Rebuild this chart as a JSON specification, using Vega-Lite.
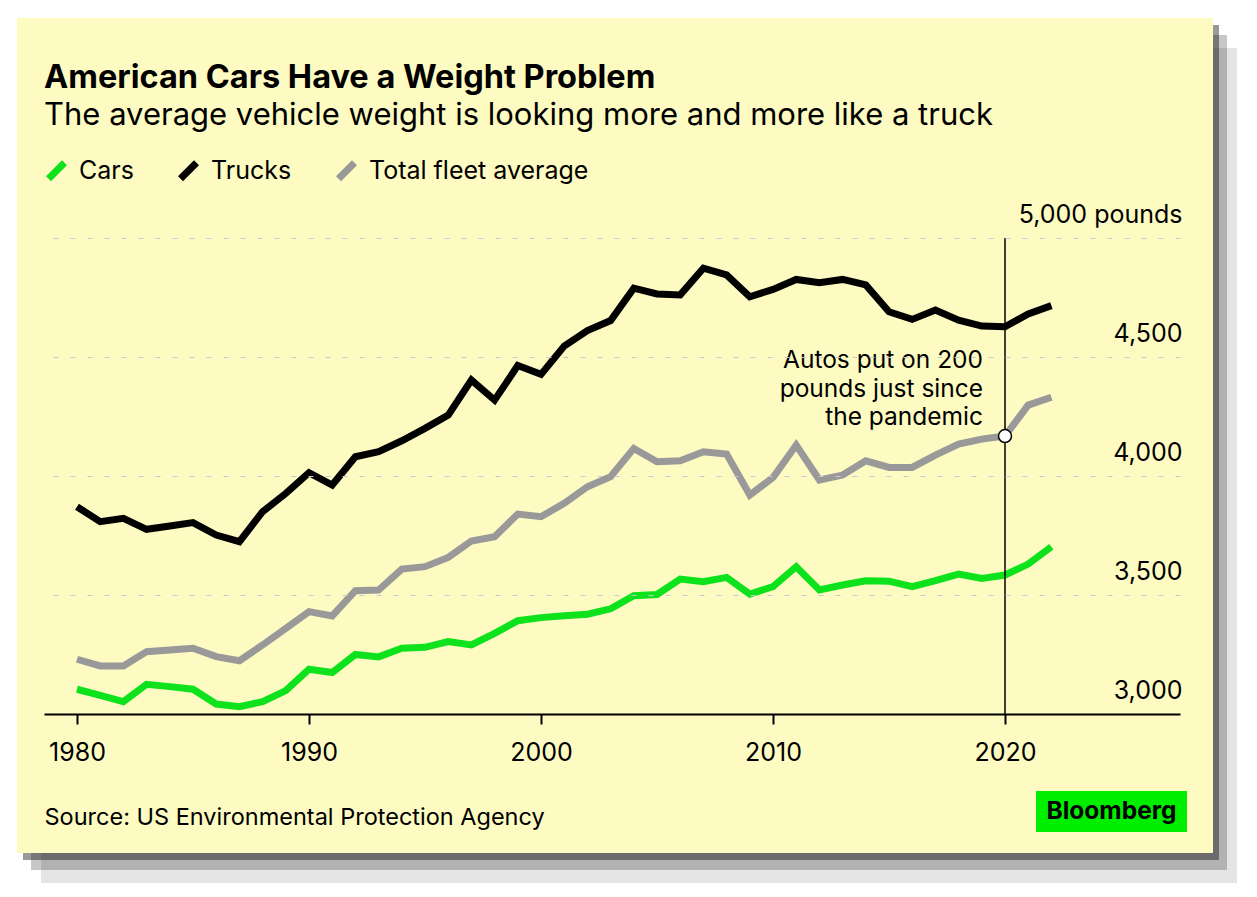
{
  "$schema": "https://vega.github.io/schema/vega-lite/v6.json",
  "width": 1136,
  "height": 476,
  "autosize": {"type": "none"},
  "padding": {"left": 44, "top": 238, "right": 77, "bottom": 183},
  "background": "#ffffff",
  "config": {
    "font": "Inter",
    "view": {"stroke": null},
    "legend": {
      "orient": "none",
      "legendX": 0,
      "legendY": -80,
      "direction": "horizontal",
      "padding": 0,
      "symbolType": "M-1,1L1,-1",
      "symbolSize": 256,
      "symbolStrokeWidth": 7,
      "symbolFillColor": "transparent",
      "labelFont": "Inter",
      "labelFontSize": 25,
      "labelColor": "#000000",
      "labelLimit": 400,
      "labelOffset": 10,
      "columnPadding": 32
    }
  },
  "title": {
    "text": "American Cars Have a Weight Problem",
    "subtitle": "The average vehicle weight is looking more and more like a truck",
    "anchor": "start",
    "frame": "group",
    "font": "Inter",
    "fontSize": 32.5,
    "fontWeight": "bold",
    "color": "#000000",
    "subtitleFont": "Inter",
    "subtitleFontSize": 31,
    "subtitleColor": "#000000",
    "subtitlePadding": 6,
    "offset": 10,
    "dy": 123
  },
  "datasets": {
    "weights": [
      {"year": 1980, "Cars": 3104, "Trucks": 3871, "Total fleet average": 3230},
      {"year": 1981, "Cars": 3078, "Trucks": 3808, "Total fleet average": 3202},
      {"year": 1982, "Cars": 3052, "Trucks": 3822, "Total fleet average": 3202},
      {"year": 1983, "Cars": 3125, "Trucks": 3776, "Total fleet average": 3262},
      {"year": 1984, "Cars": 3115, "Trucks": 3790, "Total fleet average": 3269},
      {"year": 1985, "Cars": 3104, "Trucks": 3804, "Total fleet average": 3276},
      {"year": 1986, "Cars": 3042, "Trucks": 3752, "Total fleet average": 3241},
      {"year": 1987, "Cars": 3031, "Trucks": 3724, "Total fleet average": 3224},
      {"year": 1988, "Cars": 3052, "Trucks": 3850, "Total fleet average": 3290},
      {"year": 1989, "Cars": 3098, "Trucks": 3927, "Total fleet average": 3360},
      {"year": 1990, "Cars": 3188, "Trucks": 4014, "Total fleet average": 3430},
      {"year": 1991, "Cars": 3174, "Trucks": 3962, "Total fleet average": 3412},
      {"year": 1992, "Cars": 3250, "Trucks": 4081, "Total fleet average": 3518},
      {"year": 1993, "Cars": 3240, "Trucks": 4102, "Total fleet average": 3521},
      {"year": 1994, "Cars": 3276, "Trucks": 4148, "Total fleet average": 3609},
      {"year": 1995, "Cars": 3280, "Trucks": 4200, "Total fleet average": 3619},
      {"year": 1996, "Cars": 3304, "Trucks": 4256, "Total fleet average": 3658},
      {"year": 1997, "Cars": 3290, "Trucks": 4403, "Total fleet average": 3727},
      {"year": 1998, "Cars": 3339, "Trucks": 4319, "Total fleet average": 3745},
      {"year": 1999, "Cars": 3392, "Trucks": 4464, "Total fleet average": 3840},
      {"year": 2000, "Cars": 3405, "Trucks": 4427, "Total fleet average": 3829},
      {"year": 2001, "Cars": 3413, "Trucks": 4546, "Total fleet average": 3885},
      {"year": 2002, "Cars": 3419, "Trucks": 4611, "Total fleet average": 3955},
      {"year": 2003, "Cars": 3442, "Trucks": 4653, "Total fleet average": 3997},
      {"year": 2004, "Cars": 3497, "Trucks": 4789, "Total fleet average": 4116},
      {"year": 2005, "Cars": 3502, "Trucks": 4765, "Total fleet average": 4060},
      {"year": 2006, "Cars": 3567, "Trucks": 4761, "Total fleet average": 4064},
      {"year": 2007, "Cars": 3556, "Trucks": 4873, "Total fleet average": 4102},
      {"year": 2008, "Cars": 3574, "Trucks": 4845, "Total fleet average": 4092},
      {"year": 2009, "Cars": 3504, "Trucks": 4753, "Total fleet average": 3920},
      {"year": 2010, "Cars": 3535, "Trucks": 4784, "Total fleet average": 3994},
      {"year": 2011, "Cars": 3619, "Trucks": 4826, "Total fleet average": 4130},
      {"year": 2012, "Cars": 3521, "Trucks": 4812, "Total fleet average": 3983},
      {"year": 2013, "Cars": 3542, "Trucks": 4826, "Total fleet average": 4004},
      {"year": 2014, "Cars": 3560, "Trucks": 4803, "Total fleet average": 4064},
      {"year": 2015, "Cars": 3558, "Trucks": 4690, "Total fleet average": 4036},
      {"year": 2016, "Cars": 3535, "Trucks": 4658, "Total fleet average": 4036},
      {"year": 2017, "Cars": 3560, "Trucks": 4697, "Total fleet average": 4088},
      {"year": 2018, "Cars": 3588, "Trucks": 4655, "Total fleet average": 4134},
      {"year": 2019, "Cars": 3570, "Trucks": 4630, "Total fleet average": 4155},
      {"year": 2020, "Cars": 3584, "Trucks": 4627, "Total fleet average": 4168},
      {"year": 2021, "Cars": 3630, "Trucks": 4681, "Total fleet average": 4298},
      {"year": 2022, "Cars": 3703, "Trucks": 4716, "Total fleet average": 4331}
    ],
    "note": [
      {"year": 2020, "weight": 4168, "text": ["Autos put on 200", "pounds just since", "the pandemic"]}
    ]
  },
  "layer": [
    {
      "data": {"values": [{}]},
      "mark": {"type": "rect", "color": "#000000", "opacity": 0.1},
      "encoding": {
        "x": {"datum": 1978.449, "type": "quantitative"},
        "x2": {"datum": 2030.0},
        "y": {"datum": 5798.4, "type": "quantitative"},
        "y2": {"datum": 2289.95}
      }
    },
    {
      "data": {"values": [{}]},
      "mark": {"type": "rect", "color": "#000000", "opacity": 0.22},
      "encoding": {
        "x": {"datum": 1978.017, "type": "quantitative"},
        "x2": {"datum": 2029.569},
        "y": {"datum": 5853.0, "type": "quantitative"},
        "y2": {"datum": 2344.6}
      }
    },
    {
      "data": {"values": [{}]},
      "mark": {"type": "rect", "color": "#000000", "opacity": 0.4},
      "encoding": {
        "x": {"datum": 1977.673, "type": "quantitative"},
        "x2": {"datum": 2029.225},
        "y": {"datum": 5895.0, "type": "quantitative"},
        "y2": {"datum": 2386.6}
      }
    },
    {
      "data": {"values": [{}]},
      "mark": {"type": "rect", "color": "#fdfbc1", "opacity": 1},
      "encoding": {
        "x": {"datum": 1977.414, "type": "quantitative"},
        "x2": {"datum": 2028.966},
        "y": {"datum": 5924.4, "type": "quantitative"},
        "y2": {"datum": 2416.0}
      }
    },
    {
      "data": {"name": "weights"},
      "transform": [{"fold": ["Cars", "Trucks", "Total fleet average"], "as": ["type", "weight"]}],
      "mark": {"type": "line", "strokeWidth": 7},
      "encoding": {
        "x": {
          "field": "year",
          "type": "quantitative",
          "scale": {"domain": [1978.5776, 2027.543], "nice": false, "zero": false},
          "axis": {
            "values": [1980, 1990, 2000, 2010, 2020],
            "format": "d",
            "grid": false,
            "domainColor": "#000000",
            "domainWidth": 2,
            "tickColor": "#000000",
            "tickWidth": 2,
            "tickSize": 10,
            "labelFont": "Inter",
            "labelFontSize": 25,
            "labelColor": "#000000",
            "labelPadding": 16,
            "title": "Source: US Environmental Protection Agency",
            "titleFont": "Inter",
            "titleFontSize": 23.5,
            "titleFontWeight": "normal",
            "titleColor": "#000000",
            "titleAlign": "left",
            "titleAnchor": "start",
            "titleBaseline": "alphabetic",
            "titleX": 0,
            "titleY": 110,
            "zindex": 1
          }
        },
        "y": {
          "field": "weight",
          "type": "quantitative",
          "scale": {"domain": [3000, 5000], "nice": false, "zero": false},
          "axis": {
            "orient": "right",
            "values": [3000, 3500, 4000, 4500, 5000],
            "format": ",d",
            "grid": true,
            "gridDash": [5, 12],
            "gridColor": "#c6c8d6",
            "gridWidth": 1,
            "gridOpacity": {"condition": {"test": "datum.value == 3000", "value": 0}, "value": 1},
            "domain": false,
            "ticks": false,
            "tickSize": 0,
            "labelAlign": "right",
            "labelBaseline": "alphabetic",
            "labelOffset": -16,
            "labelPadding": 2,
            "labelFont": "Inter",
            "labelFontSize": 25,
            "labelColor": "#000000",
            "labelExpr": "datum.value == 5000 ? '5,000 pounds' : datum.label",
            "title": null,
            "zindex": 1
          }
        },
        "color": {
          "field": "type",
          "type": "nominal",
          "scale": {"domain": ["Cars", "Trucks", "Total fleet average"], "range": ["#0de21d", "#000000", "#999999"]},
          "legend": {"title": null}
        }
      }
    },
    {
      "data": {"name": "note"},
      "mark": {"type": "rule", "strokeWidth": 1.5, "color": "#000000"},
      "encoding": {"x": {"field": "year", "type": "quantitative"}}
    },
    {
      "data": {"name": "note"},
      "mark": {"type": "point", "filled": true, "fill": "#ffffff", "stroke": "#000000", "strokeWidth": 1.5, "size": 169, "opacity": 1},
      "encoding": {
        "x": {"field": "year", "type": "quantitative"},
        "y": {"field": "weight", "type": "quantitative"}
      }
    },
    {
      "data": {"name": "note"},
      "mark": {"type": "text", "align": "right", "baseline": "alphabetic", "dx": -22, "dy": -68, "font": "Inter", "fontSize": 24.5, "lineHeight": 28.5, "color": "#000000"},
      "encoding": {
        "x": {"field": "year", "type": "quantitative"},
        "y": {"field": "weight", "type": "quantitative"},
        "text": {"field": "text"}
      }
    },
    {
      "data": {"values": [{}]},
      "mark": {"type": "rect", "color": "#00ef00"},
      "encoding": {
        "x": {"datum": 2021.336, "type": "quantitative"},
        "x2": {"datum": 2027.845},
        "y": {"datum": 2676.5, "type": "quantitative"},
        "y2": {"datum": 2504.2}
      }
    },
    {
      "data": {"values": [{}]},
      "mark": {"type": "text", "text": "Bloomberg", "font": "Inter", "fontWeight": "bold", "fontSize": 24.5, "align": "center", "baseline": "alphabetic", "color": "#000000"},
      "encoding": {
        "x": {"datum": 2024.591, "type": "quantitative"},
        "y": {"datum": 2558.8, "type": "quantitative"}
      }
    }
  ]
}
